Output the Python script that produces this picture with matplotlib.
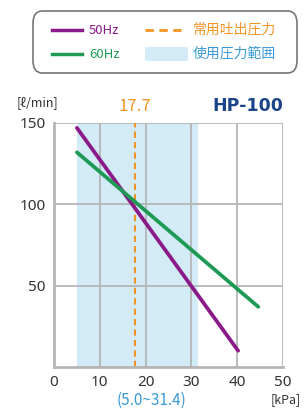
import matplotlib
matplotlib.use("Agg")
import matplotlib.pyplot as plt
from matplotlib.patches import FancyBboxPatch, Rectangle
from matplotlib.lines import Line2D

plt.rcParams['font.family'] = ['Noto Sans CJK JP', 'DejaVu Sans']

# Data
x_50hz = [5.0, 40.2]
y_50hz = [147, 10]
x_60hz = [5.0, 44.6]
y_60hz = [132, 37]
range_lo, range_hi = 5.0, 31.4
normal_pressure = 17.7
xticks = [0, 10, 20, 30, 40, 50]
yticks = [50, 100, 150]
model = "HP-100"
legend_labels = ["50Hz", "60Hz", "常用吐出圧力", "使用圧力範囲"]

c50 = "#8b1a89"
c60 = "#1f9a55"
corange = "#f39322"
cshade = "#d3eaf7"
cblue = "#3a9ad6"
cgrid = "#b5b5b5"
ctext = "#333333"

fig = plt.figure(figsize=(3.06, 4.09), dpi=100)
ax = fig.add_axes([54/306, 1-367/409, 229/306, 244/409])

ax.axvspan(range_lo, range_hi, color=cshade, zorder=0, lw=0)
for xt in xticks[1:]:
    ax.axvline(xt, color=cgrid, lw=1.3, zorder=1)
for yt in yticks:
    ax.axhline(yt, color=cgrid, lw=1.3, zorder=1)
ax.axvline(normal_pressure, color=corange, lw=1.5, ls=(0, (3, 2)), zorder=2)
ax.plot(x_50hz, y_50hz, color=c50, lw=2.7, solid_capstyle='round', zorder=3)
ax.plot(x_60hz, y_60hz, color=c60, lw=2.7, solid_capstyle='round', zorder=3)

ax.set_xlim(0, 50)
ax.set_ylim(0, 150)
ax.set_xticks(xticks)
ax.set_yticks(yticks)
ax.tick_params(length=0, labelsize=11, colors=ctext, pad=6)
for lab in ax.get_xticklabels() + ax.get_yticklabels():
    lab.set_family(['Noto Sans', 'DejaVu Sans'])
for s in ['top', 'right']:
    ax.spines[s].set_visible(False)
for s in ['left', 'bottom']:
    ax.spines[s].set_color(cgrid)
    ax.spines[s].set_linewidth(2)

# texts
fig.text(38/306, 1-103/409, "[ℓ/min]", ha='center', va='center', fontsize=9, color=ctext)
ax.text(normal_pressure, 155, "17.7", ha='center', va='bottom', fontsize=12, color=corange)
ax.text(50, 155, model, ha='right', va='bottom', fontsize=12.5, color="#1b4488", fontweight='bold',
        family=['DejaVu Sans'])
fig.text(151/306, 1-400/409, "(5.0~31.4)", ha='center', va='center', fontsize=11, color=cblue)
fig.text(286/306, 1-400/409, "[kPa]", ha='center', va='center', fontsize=9, color=ctext)

# legend box
box = FancyBboxPatch((33/306, 1-73/409), 264/306, 62/409,
                     boxstyle="round,pad=0,rounding_size=0.03", transform=fig.transFigure,
                     facecolor='white', edgecolor='#777777', lw=1.2)
fig.patches.append(box)
r1 = 1-30/409
r2 = 1-54/409
fig.add_artist(Line2D([52/306, 82/306], [r1, r1], color=c50, lw=2.5, transform=fig.transFigure))
fig.add_artist(Line2D([52/306, 82/306], [r2, r2], color=c60, lw=2.5, transform=fig.transFigure))
fig.text(89/306, r1, legend_labels[0], ha='left', va='center', fontsize=9.5, color=c50)
fig.text(89/306, r2, legend_labels[1], ha='left', va='center', fontsize=9.5, color=c60)
fig.add_artist(Line2D([145/306, 185/306], [r1, r1], color=corange, lw=2, ls=(0, (3, 2)),
                      transform=fig.transFigure))
fig.patches.append(Rectangle((145/306, 1-61/409), 43/306, 14/409, transform=fig.transFigure,
                             facecolor=cshade, edgecolor='none'))
fig.text(193/306, r1, legend_labels[2], ha='left', va='center', fontsize=10, color=corange)
fig.text(193/306, r2, legend_labels[3], ha='left', va='center', fontsize=10, color=cblue)

fig.savefig("out.png", dpi=100)
